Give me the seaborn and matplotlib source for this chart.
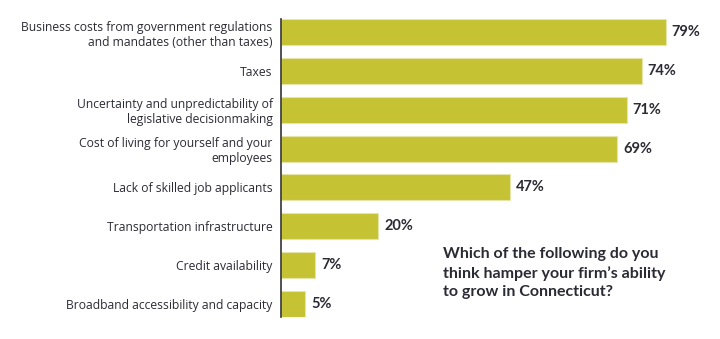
import matplotlib
matplotlib.use("Agg")
import matplotlib.pyplot as plt
import seaborn as sns
import pandas as pd

categories = [
    "Business costs from government regulations\nand mandates (other than taxes)",
    "Taxes",
    "Uncertainty and unpredictability of\nlegislative decisionmaking",
    "Cost of living for yourself and your\nemployees",
    "Lack of skilled job applicants",
    "Transportation infrastructure",
    "Credit availability",
    "Broadband accessibility and capacity",
]
values = [79, 74, 71, 69, 47, 20, 7, 5]
question = "Which of the following do you\nthink hamper your firm\u2019s ability\nto grow in Connecticut?"

df = pd.DataFrame({"category": categories, "value": values})

sns.set_theme(style="white")
plt.rcParams["font.family"] = ["Open Sans", "DejaVu Sans"]

text_color = "#2b2b35"
bar_color = "#c5c333"

fig = plt.figure(figsize=(7.2, 3.39), dpi=100)
ax = fig.add_axes([281 / 720, 1 - 317 / 339, 439 / 720, 298 / 339])

bar_w = 0.67
sns.barplot(data=df, x="value", y="category", orient="h", color=bar_color,
            width=bar_w, edgecolor="#e6e4a8", linewidth=0.8, saturation=1, ax=ax)

ax.set_xlim(0, 90.1)
ax.set_ylim(len(values) - 1 + bar_w / 2, -bar_w / 2)
ax.set_xlabel("")
ax.set_ylabel("")
ax.set_xticks([])
ax.tick_params(axis="y", length=0, pad=6, labelsize=8.7, labelcolor=text_color)
for lab in ax.get_yticklabels():
    lab.set_horizontalalignment("right")
    lab.set_multialignment("right")
    lab.set_linespacing(1.2)

for s in ["top", "right", "bottom"]:
    ax.spines[s].set_visible(False)
ax.spines["left"].set_color("#333333")
ax.spines["left"].set_linewidth(1.2)

for i, v in enumerate(values):
    ax.text(v + 1.2, i, f"{v}%", va="center", ha="left", fontsize=10.5,
            fontweight="bold", color=text_color, family=["Lato", "DejaVu Sans"])

fig.text(443 / 720, 1 - 247 / 339, question, ha="left", va="top",
         fontsize=11.5, fontweight="bold", color=text_color, linespacing=1.42,
         family=["Lato", "DejaVu Sans"])

fig.savefig("out.png", dpi=100)
